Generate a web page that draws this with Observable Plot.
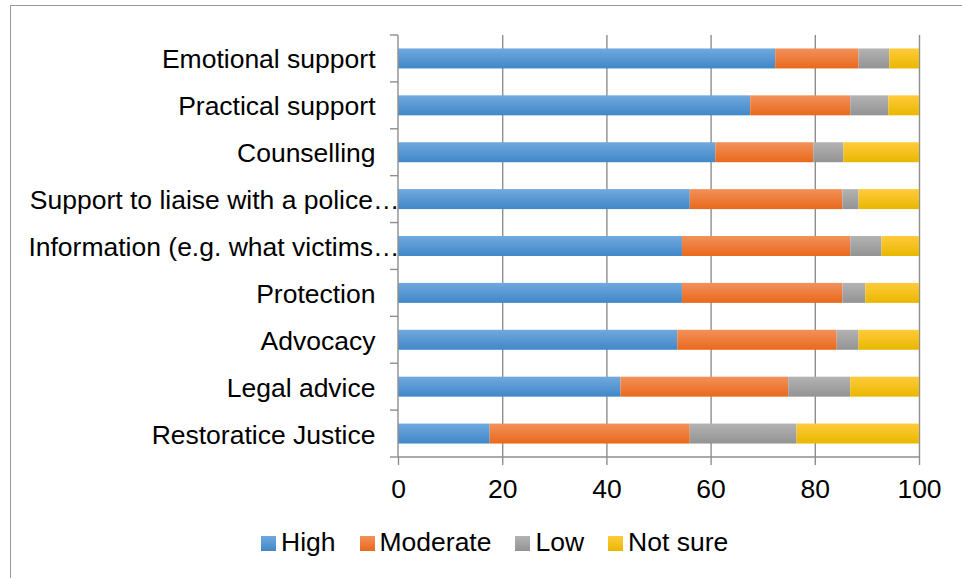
<!DOCTYPE html>
<html>
<head>
<meta charset="utf-8">
<script src="https://cdn.jsdelivr.net/npm/d3@7"></script>
<script src="https://cdn.jsdelivr.net/npm/@observablehq/plot@0.6"></script>
<style>
  html, body { margin: 0; padding: 0; background: #fff; }
  body { width: 962px; height: 578px; overflow: hidden; position: relative;
         font-family: "Liberation Sans", Arial, sans-serif; }
  #frame { position: absolute; left: 10px; top: 5px; width: 1000px; height: 1000px;
           border-left: 1.5px solid #9a9a9a; border-top: 1.5px solid #9a9a9a; pointer-events: none; }
  #chart { position: absolute; left: 0; top: 0; }
  #legend { position: absolute; left: 261px; top: 527px; height: 30px; display: flex; align-items: center;
            font-size: 26.5px; line-height: 30px; color: #000; }
  .item { display: flex; align-items: center; margin-right: 24px; }
  .swatch { width: 15px; height: 15px; margin-right: 5px; margin-top: 2px; }
</style>
</head>
<body>
<div id="frame"></div>
<div id="chart"></div>
<div id="legend"></div>
<script>
// Support services rated by importance (% of respondents)
const services = [
  "Emotional support",
  "Practical support",
  "Counselling",
  "Support to liaise with a police…",
  "Information (e.g. what victims…",
  "Protection",
  "Advocacy",
  "Legal advice",
  "Restoratice Justice"
];
const levels = ["High", "Moderate", "Low", "Not sure"];
const high     = [72.4, 67.6, 60.9, 56.0, 54.5, 54.5, 53.6, 42.7, 17.6];
const moderate = [16.0, 19.2, 18.8, 29.3, 32.3, 30.8, 30.6, 32.2, 38.4];
const low      = [ 5.9,  7.3,  5.8,  3.1,  6.0,  4.4,  4.2, 11.9, 20.5];
const notSure  = [ 5.7,  5.9, 14.5, 11.6,  7.2, 10.3, 11.6, 13.2, 23.5];
const xTicks = [0, 20, 40, 60, 80, 100];

// Gradient stops (top, bottom) for each level
const shades = {
  "High":     ["#70a9de", "#4187c8"],
  "Moderate": ["#f3915a", "#e8691c"],
  "Low":      ["#b3b3b3", "#939393"],
  "Not sure": ["#ffcb3c", "#e9b700"]
};
const gradId = (l, i) => `grad-${i}`;

const seriesByLevel = [high, moderate, low, notSure];
const rows = [];
levels.forEach((level, li) => {
  services.forEach((s, si) => rows.push({service: s, level, value: seriesByLevel[li][si]}));
});

const AXIS = "#8e8e8e";
const FONT = 26.5;

// Category axis: vertical line, boundary ticks between bands and the bottom baseline
function bandAxis(index, scales, values, dims) {
  const y = scales.y, x = scales.x;
  const step = y.step(), bw = y.bandwidth();
  const x0 = x(0), x1 = x(100);
  const bounds = services.map(s => y(s) + bw / 2 - step / 2);
  bounds.push(y(services[services.length - 1]) + bw / 2 + step / 2);
  const g = d3.create("svg:g")
    .attr("stroke", AXIS).attr("stroke-width", 1.4).attr("fill", "none");
  g.append("line").attr("x1", x0).attr("x2", x0)
    .attr("y1", bounds[0]).attr("y2", bounds[bounds.length - 1]);
  g.append("line").attr("x1", x0).attr("x2", x1)
    .attr("y1", bounds[bounds.length - 1]).attr("y2", bounds[bounds.length - 1]);
  for (const b of bounds) {
    g.append("line").attr("x1", x0 - 8).attr("x2", x0).attr("y1", b).attr("y2", b);
  }
  return g.node();
}

const truncated = s => s.endsWith("…");

const chart = Plot.plot({
  width: 962,
  height: 520,
  marginLeft: 398,
  marginRight: 43,
  marginTop: 35,
  marginBottom: 63,
  style: {fontFamily: "'Liberation Sans', Arial, sans-serif", fontSize: FONT + "px", color: "#000", background: "transparent"},
  x: {domain: [0, 100], axis: null},
  y: {domain: services, paddingInner: 0.574, paddingOuter: 0.287, round: false, axis: null},
  color: {domain: levels, range: levels.map((l, i) => `url(#${gradId(l, i)})`)},
  marks: [
    Plot.gridX(xTicks.slice(1), {stroke: AXIS, strokeOpacity: 1, strokeWidth: 1.4}),
    Plot.barX(rows, Plot.stackX({y: "service", x: "value", fill: "level", z: "level"})),
    bandAxis,
    Plot.axisX(xTicks, {tickSize: 8, tickPadding: 14, stroke: AXIS, strokeWidth: 1.4, strokeOpacity: 1,
                        fontSize: FONT, label: null, tickFormat: d => String(d)}),
    Plot.text(services.filter(s => !truncated(s)), {y: d => d, text: d => d, frameAnchor: "left",
              textAnchor: "end", dx: -23, dy: 1, fontSize: FONT, fill: "#000"}),
    Plot.text(services.filter(truncated), {y: d => d, text: d => d, frameAnchor: "left",
              textAnchor: "end", dx: 1, dy: 1, fontSize: FONT, fill: "#000"})
  ]
});

// Vertical gradients used by the bar fills
const defs = d3.select(chart).insert("defs", ":first-child");
levels.forEach((l, i) => {
  const lg = defs.append("linearGradient").attr("id", gradId(l, i))
    .attr("x1", 0).attr("y1", 0).attr("x2", 0).attr("y2", 1);
  lg.append("stop").attr("offset", "0%").attr("stop-color", shades[l][0]);
  lg.append("stop").attr("offset", "100%").attr("stop-color", shades[l][1]);
});

document.getElementById("chart").appendChild(chart);

// Legend below the plot
const legend = d3.select("#legend");
levels.forEach(l => {
  const item = legend.append("div").attr("class", "item");
  item.append("div").attr("class", "swatch")
    .style("background", `linear-gradient(${shades[l][0]}, ${shades[l][1]})`);
  item.append("span").text(l);
});
</script>
</body>
</html>
